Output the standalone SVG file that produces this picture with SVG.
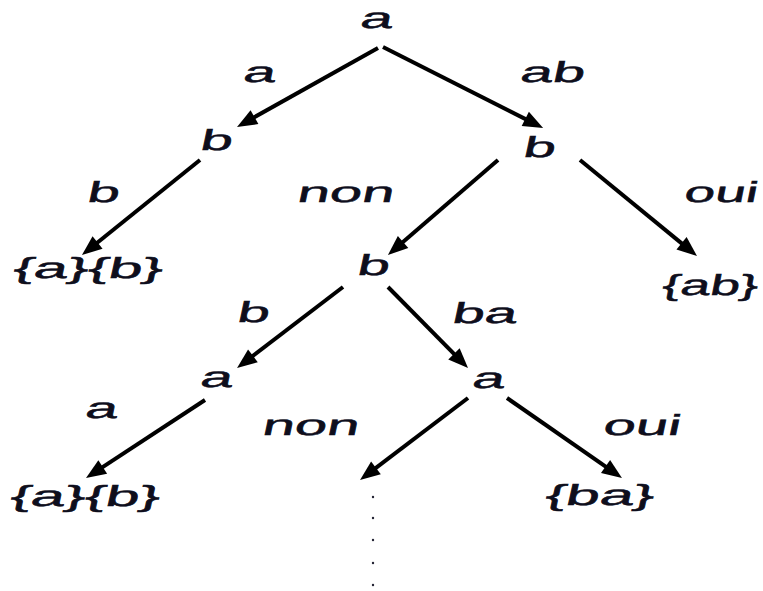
<svg xmlns="http://www.w3.org/2000/svg" width="763" height="591" viewBox="0 0 763 591">
<style>
text{font-family:"Liberation Sans",Arial,sans-serif;font-size:29px;fill:#0e0e1c;stroke:#0e0e1c;stroke-width:0.5}
.e{stroke:#000;stroke-width:4;fill:none;marker-end:url(#ah)}
</style>
<defs>
<marker id="ah" markerUnits="userSpaceOnUse" viewBox="-13 -9 22 18" refX="0" refY="0" markerWidth="22" markerHeight="18" orient="auto">
<path d="M-12,-8 L8,0 L-12,8 z" fill="#000"/>
</marker>
</defs>
<rect width="763" height="591" fill="#fff"/>
<g id="connectors">
<line class="e" x1="378" y1="48" x2="244" y2="123"/>
<line class="e" x1="383" y1="47" x2="536" y2="124.4"/>
<line class="e" x1="200" y1="160" x2="88.2" y2="250"/>
<line class="e" x1="498" y1="160" x2="394" y2="249.8"/>
<line class="e" x1="580" y1="160" x2="690.8" y2="250.9"/>
<line class="e" x1="343" y1="287" x2="243.4" y2="363.1"/>
<line class="e" x1="388" y1="287" x2="462.4" y2="362.3"/>
<line class="e" x1="205" y1="400" x2="92.7" y2="473.6"/>
<line class="e" x1="468" y1="398" x2="366.4" y2="475.2"/>
<line class="e" x1="507" y1="398" x2="615.4" y2="473.4"/>
<g fill="#223">
<circle cx="373" cy="497" r="1.2"/>
<circle cx="373" cy="518" r="1.2"/>
<circle cx="373" cy="540" r="1.2"/>
<circle cx="373" cy="563" r="1.2"/>
<circle cx="373" cy="585" r="1.2"/>
</g>
</g>
<g id="labels">
<text transform="translate(242,82) scale(2,1) skewX(-6)">a</text>
<text transform="translate(519,82) scale(2,1) skewX(-6)">ab</text>
<text transform="translate(86,202) scale(2,1) skewX(-6)">b</text>
<text transform="translate(296,202) scale(2,1) skewX(-6)">non</text>
<text transform="translate(683,202) scale(1.9,1) skewX(-6)">oui</text>
<text transform="translate(236,322) scale(2,1) skewX(-6)">b</text>
<text transform="translate(451,323) scale(2,1) skewX(-6)">ba</text>
<text transform="translate(84,418) scale(2,1) skewX(-6)">a</text>
<text transform="translate(261,435) scale(2,1) skewX(-6)">non</text>
<text transform="translate(602,435) scale(2,1) skewX(-6)">oui</text>
</g>
<g id="n-root"><text transform="translate(359,28) scale(2,1) skewX(-6)">a</text></g>
<g id="n-b1"><text transform="translate(199,150) scale(2,1) skewX(-6)">b</text></g>
<g id="n-b2"><text transform="translate(522,157) scale(2,1) skewX(-6)">b</text></g>
<g id="n-leaf1"><text transform="translate(12,278) scale(2.1,1) skewX(-6)">{a}{b}</text></g>
<g id="n-b3"><text transform="translate(356,275) scale(2,1) skewX(-6)">b</text></g>
<g id="n-ab"><text transform="translate(661,295) scale(1.85,1) skewX(-6)">{ab}</text></g>
<g id="n-a1"><text transform="translate(199,387) scale(2,1) skewX(-6)">a</text></g>
<g id="n-a2"><text transform="translate(471,388) scale(2,1) skewX(-6)">a</text></g>
<g id="n-leaf2"><text transform="translate(9,506) scale(2.1,1) skewX(-6)">{a}{b}</text></g>
<g id="n-ba"><text transform="translate(544,505) scale(2.1,1) skewX(-6)">{ba}</text></g>
</svg>
